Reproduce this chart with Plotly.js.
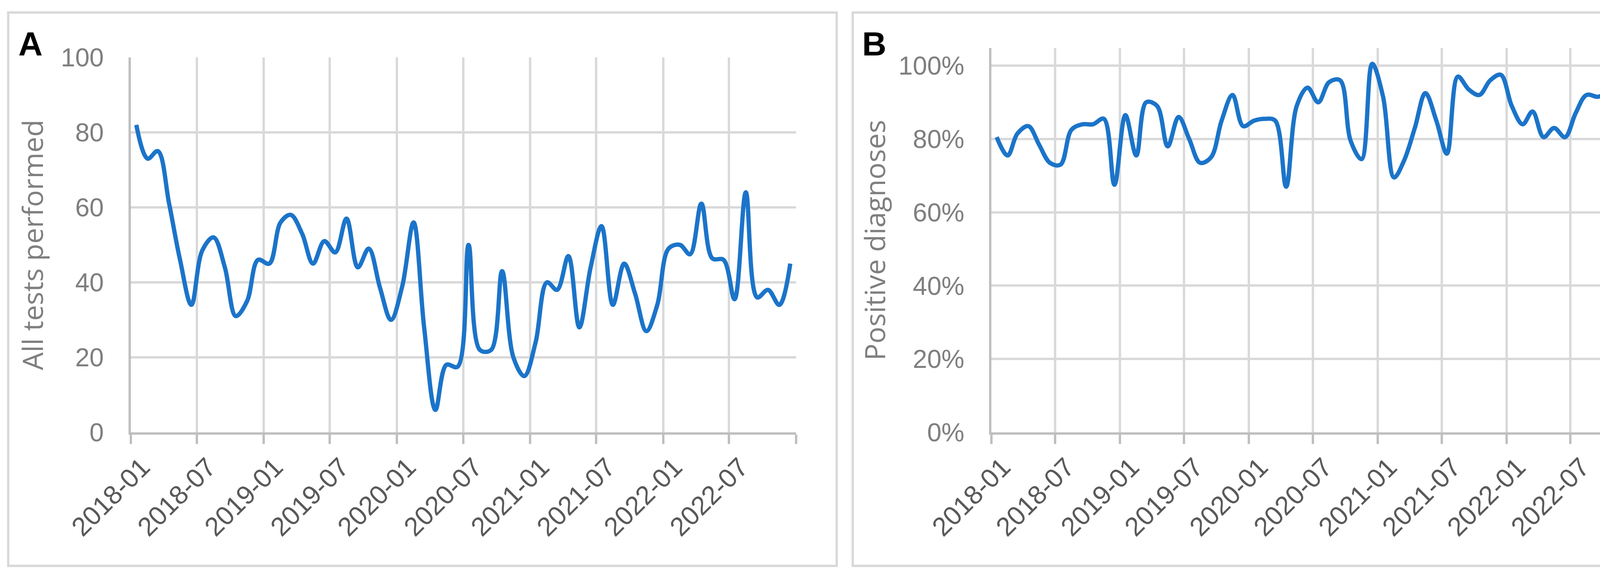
<!DOCTYPE html>
<html><head><meta charset="utf-8">
<script src="https://cdn.plot.ly/plotly-3.0.1.min.js"></script>
<style>html,body{margin:0;padding:0;background:#fff;}#chart{width:4334px;height:1480px;}</style>
</head><body><div id="chart"></div>
<script>
// ---- data ----
const months = [
 '2018-01','2018-02','2018-03','2018-04','2018-05','2018-06','2018-07','2018-08','2018-09','2018-10','2018-11','2018-12',
 '2019-01','2019-02','2019-03','2019-04','2019-05','2019-06','2019-07','2019-08','2019-09','2019-10','2019-11','2019-12',
 '2020-01','2020-02','2020-03','2020-04','2020-05','2020-06','2020-07','2020-08','2020-09','2020-10','2020-11','2020-12',
 '2021-01','2021-02','2021-03','2021-04','2021-05','2021-06','2021-07','2021-08','2021-09','2021-10','2021-11','2021-12',
 '2022-01','2022-02','2022-03','2022-04','2022-05','2022-06','2022-07','2022-08','2022-09','2022-10','2022-11','2022-12'];
const testsPerformed = [
 82,73,75,61,46,34,48.5,52,44,31,35,46,
 45,56,58,53,45,51,48,57,44,49,38.5,30,
 39,56,28,6,18,17.5,50,22,22,43,20,15,
 24,40,38,47,28,44,55,34,45,37,27,34,
 49,50,47.5,61,46.4,46,35.5,64,36,38,34,45];
const positiveShare = [
 0.805,0.755,0.815,0.835,0.785,0.735,0.73,0.825,0.84,0.84,0.855,0.675,
 0.865,0.755,0.90,0.89,0.78,0.86,0.80,0.735,0.75,0.85,0.92,0.835,
 0.85,0.855,0.85,0.67,0.89,0.94,0.90,0.955,0.96,0.795,0.745,1.005,
 0.915,0.695,0.74,0.83,0.925,0.85,0.76,0.97,0.935,0.92,0.96,0.975,
 0.89,0.84,0.875,0.805,0.83,0.805,0.87,0.92,0.915,0.92,0.74,0.935];
const tickLabels = ['2018-01','2018-07','2019-01','2019-07','2020-01','2020-07','2021-01','2021-07','2022-01','2022-07'];
const axisEnd = '2023-01';
const panelLabels = ['A','B'];
const yTitles = ['All tests performed','Positive diagnoses'];

// ---- layout helpers ----
const W = 4334, H = 1480;
const px = v => v / W;
const py = v => 1 - v / H;
const xMid = months.map(m => m + '-16');
const lineColor = '#1b74c9';

const traces = [
  {x: xMid, y: testsPerformed, type: 'scatter', mode: 'lines', xaxis: 'x', yaxis: 'y',
   line: {color: lineColor, width: 11, shape: 'spline', smoothing: 1}, hoverinfo: 'skip'},
  {x: xMid, y: positiveShare, type: 'scatter', mode: 'lines', xaxis: 'x2', yaxis: 'y2',
   line: {color: lineColor, width: 11, shape: 'spline', smoothing: 1}, hoverinfo: 'skip'}
];

function xAxis(domain, anchor) {
  return {
    domain: domain, anchor: anchor, type: 'date',
    range: [months[0] + '-01', axisEnd + '-01'],
    tickmode: 'array', tickvals: tickLabels.concat([axisEnd]), ticktext: tickLabels.concat(['']),
    tickangle: -45, tickfont: {family: 'Liberation Sans', size: 68, color: '#595959'},
    showgrid: true, gridcolor: '#d9d9d9', gridwidth: 6,
    showline: true, linecolor: '#bfbfbf', linewidth: 6,
    ticks: 'outside', ticklen: 24, tickwidth: 6, tickcolor: '#bfbfbf',
    ticklabelstandoff: -8, ticklabelshift: 29, zeroline: false, automargin: false, fixedrange: true
  };
}
function yAxis(domain, anchor, range, dtick, fmt, title, standoff) {
  return {
    domain: domain, anchor: anchor, range: range, dtick: dtick, tick0: 0, tickformat: fmt,
    tickfont: {family: 'Liberation Sans', size: 66, color: '#7f7f7f'},
    showgrid: true, gridcolor: '#d9d9d9', gridwidth: 6,
    showline: true, linecolor: '#bfbfbf', linewidth: 6,
    ticks: '', ticklabelstandoff: 50, zeroline: false, automargin: false, fixedrange: true,
    title: {text: title, font: {family: 'Open Sans', size: 72, color: '#7f7f7f'}, standoff: standoff}
  };
}

const layout = {
  width: W, height: H,
  margin: {l: 0, r: 0, t: 0, b: 0},
  paper_bgcolor: '#ffffff', plot_bgcolor: '#ffffff',
  showlegend: false,
  xaxis: xAxis([px(335), px(2038)], 'y'),
  yaxis: yAxis([py(1107), py(147)], 'x', [0, 100], 20, '', yTitles[0], 23),
  xaxis2: xAxis([px(2538), px(4186)], 'y2'),
  yaxis2: yAxis([py(1107), py(123)], 'x2', [0, 1.048], 0.2, '.0%', yTitles[1], 12),
  shapes: [
    {type: 'rect', xref: 'paper', yref: 'paper', x0: px(21), x1: px(2142), y0: py(1449), y1: py(32),
     line: {color: '#d9d9d9', width: 6}},
    {type: 'rect', xref: 'paper', yref: 'paper', x0: px(2183), x1: px(4303), y0: py(1449), y1: py(32),
     line: {color: '#d9d9d9', width: 6}}
  ],
  annotations: [
    {text: panelLabels[0], xref: 'paper', yref: 'paper', x: px(45), y: py(112), xanchor: 'left', yanchor: 'middle',
     showarrow: false, font: {family: 'Liberation Sans', size: 86, color: '#000000', weight: 'bold'}},
    {text: panelLabels[1], xref: 'paper', yref: 'paper', x: px(2205), y: py(112), xanchor: 'left', yanchor: 'middle',
     showarrow: false, font: {family: 'Liberation Sans', size: 86, color: '#000000', weight: 'bold'}}
  ]
};

Plotly.newPlot('chart', traces, layout, {displayModeBar: false, staticPlot: true});
</script>
</body></html>
